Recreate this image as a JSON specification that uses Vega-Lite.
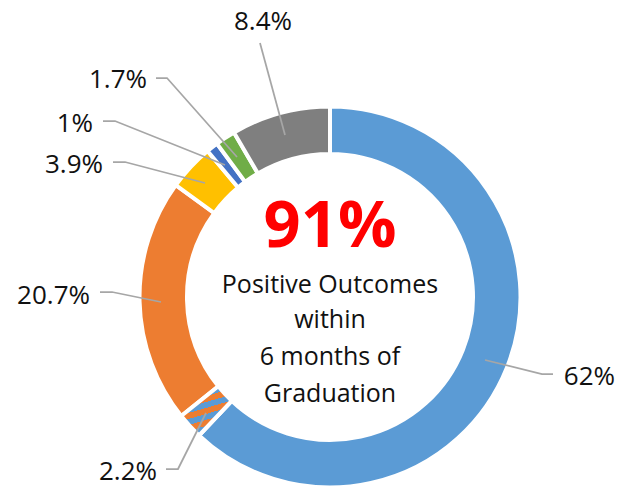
{
  "$schema": "https://vega.github.io/schema/vega-lite/v6.json",
  "width": 578,
  "height": 380,
  "autosize": {"type": "none"},
  "padding": {"left": 41, "top": 107, "right": 0, "bottom": 0},
  "background": "white",
  "config": {"view": {"stroke": null}},
  "datasets": {
    "slices": [
      {"idx": 1, "category": "s1", "value": 62},
      {"idx": 2, "category": "s2", "value": 2.2},
      {"idx": 3, "category": "s3", "value": 20.7},
      {"idx": 4, "category": "s4", "value": 3.9},
      {"idx": 5, "category": "s5", "value": 1},
      {"idx": 6, "category": "s6", "value": 1.7},
      {"idx": 7, "category": "s7", "value": 8.4}
    ],
    "labels": [
      {"label": "8.4%", "x": -38, "y": 267},
      {"label": "1.7%", "x": -183, "y": 209},
      {"label": "1%", "x": -237, "y": 165},
      {"label": "3.9%", "x": -227, "y": 124},
      {"label": "20.7%", "x": -240, "y": -7},
      {"label": "2.2%", "x": -173, "y": -183},
      {"label": "62%", "x": 285, "y": -88}
    ],
    "leaders": [
      {"label": "8.4%", "step": 1, "x": -70, "y": 254},
      {"label": "8.4%", "step": 2, "x": -45, "y": 162},
      {"label": "1.7%", "step": 1, "x": -174, "y": 219},
      {"label": "1.7%", "step": 2, "x": -163, "y": 219},
      {"label": "1.7%", "step": 3, "x": -93, "y": 140},
      {"label": "1%", "step": 1, "x": -227, "y": 176},
      {"label": "1%", "step": 2, "x": -215, "y": 176},
      {"label": "1%", "step": 3, "x": -105, "y": 132},
      {"label": "3.9%", "step": 1, "x": -217, "y": 135},
      {"label": "3.9%", "step": 2, "x": -205, "y": 135},
      {"label": "3.9%", "step": 3, "x": -125, "y": 114},
      {"label": "20.7%", "step": 1, "x": -230, "y": 5},
      {"label": "20.7%", "step": 2, "x": -218, "y": 5},
      {"label": "20.7%", "step": 3, "x": -169, "y": -5},
      {"label": "2.2%", "step": 1, "x": -164, "y": -172},
      {"label": "2.2%", "step": 2, "x": -152, "y": -172},
      {"label": "2.2%", "step": 3, "x": -124, "y": -116},
      {"label": "62%", "step": 1, "x": 155, "y": -63},
      {"label": "62%", "step": 2, "x": 212, "y": -77},
      {"label": "62%", "step": 3, "x": 223, "y": -77}
    ],
    "headline": [
      {"text": "91%", "x": 0, "y": 50}
    ],
    "caption": [
      {"text": "Positive Outcomes", "x": 0, "y": 4},
      {"text": "within", "x": 0, "y": -31},
      {"text": "6 months of", "x": 0, "y": -68},
      {"text": "Graduation", "x": 0, "y": -105}
    ]
  },
  "layer": [
    {
      "data": {"name": "slices"},
      "transform": [
        {"stack": "value", "groupby": [], "sort": [{"field": "idx", "order": "ascending"}], "as": ["t0", "t1"]}
      ],
      "mark": {"type": "arc", "radius": 190.5, "radius2": 143, "stroke": "white", "strokeWidth": 4},
      "encoding": {
        "theta": {"field": "t0", "type": "quantitative", "scale": {"domain": [0, 99.9]}},
        "theta2": {"field": "t1"},
        "color": {
          "field": "category",
          "type": "nominal",
          "scale": {
            "domain": ["s1", "s2", "s3", "s4", "s5", "s6", "s7"],
            "range": ["#5B9BD5", "#ED7D31", "#ED7D31", "#FFC000", "#4472C4", "#70AD47", "#7F7F7F"]
          },
          "legend": null
        }
      }
    },
    {
      "data": {"name": "slices"},
      "transform": [
        {"stack": "value", "groupby": [], "sort": [{"field": "idx", "order": "ascending"}], "as": ["t0", "t1"]},
        {"filter": "datum.idx === 2"}
      ],
      "mark": {
        "type": "arc",
        "radius": 190.5,
        "radius2": 143,
        "stroke": "white",
        "strokeWidth": 4,
        "fill": {
          "gradient": "linear",
          "x1": 0.35, "y1": 0, "x2": 0.65, "y2": 1,
          "stops": [
            {"offset": 0, "color": "#ED7D31"},
            {"offset": 0.111, "color": "#ED7D31"},
            {"offset": 0.111, "color": "#5B9BD5"},
            {"offset": 0.222, "color": "#5B9BD5"},
            {"offset": 0.222, "color": "#ED7D31"},
            {"offset": 0.333, "color": "#ED7D31"},
            {"offset": 0.333, "color": "#5B9BD5"},
            {"offset": 0.444, "color": "#5B9BD5"},
            {"offset": 0.444, "color": "#ED7D31"},
            {"offset": 0.556, "color": "#ED7D31"},
            {"offset": 0.556, "color": "#5B9BD5"},
            {"offset": 0.667, "color": "#5B9BD5"},
            {"offset": 0.667, "color": "#ED7D31"},
            {"offset": 0.778, "color": "#ED7D31"},
            {"offset": 0.778, "color": "#5B9BD5"},
            {"offset": 0.889, "color": "#5B9BD5"},
            {"offset": 0.889, "color": "#ED7D31"},
            {"offset": 1, "color": "#ED7D31"}
          ]
        }
      },
      "encoding": {
        "theta": {"field": "t0", "type": "quantitative", "scale": {"domain": [0, 99.9]}},
        "theta2": {"field": "t1"}
      }
    },
    {
      "data": {"name": "leaders"},
      "mark": {"type": "line", "color": "#A6A6A6", "strokeWidth": 1.75},
      "encoding": {
        "x": {"field": "x", "type": "quantitative", "scale": {"domain": [-289, 289], "nice": false, "zero": false}, "axis": null},
        "y": {"field": "y", "type": "quantitative", "scale": {"domain": [-190, 190], "nice": false, "zero": false}, "axis": null},
        "detail": {"field": "label"},
        "order": {"field": "step", "type": "quantitative"}
      }
    },
    {
      "data": {"name": "labels"},
      "mark": {"type": "text", "align": "right", "baseline": "alphabetic", "font": "Open Sans", "fontSize": 26, "color": "#111111"},
      "encoding": {
        "x": {"field": "x", "type": "quantitative", "scale": {"domain": [-289, 289], "nice": false, "zero": false}, "axis": null},
        "y": {"field": "y", "type": "quantitative", "scale": {"domain": [-190, 190], "nice": false, "zero": false}, "axis": null},
        "text": {"field": "label"}
      }
    },
    {
      "data": {"name": "headline"},
      "mark": {"type": "text", "align": "center", "baseline": "alphabetic", "font": "Open Sans", "fontSize": 65, "fontWeight": "bold", "color": "#FF0000"},
      "encoding": {
        "x": {"field": "x", "type": "quantitative", "scale": {"domain": [-289, 289], "nice": false, "zero": false}, "axis": null},
        "y": {"field": "y", "type": "quantitative", "scale": {"domain": [-190, 190], "nice": false, "zero": false}, "axis": null},
        "text": {"field": "text"}
      }
    },
    {
      "data": {"name": "caption"},
      "mark": {"type": "text", "align": "center", "baseline": "alphabetic", "font": "Open Sans", "fontSize": 25, "color": "#111111"},
      "encoding": {
        "x": {"field": "x", "type": "quantitative", "scale": {"domain": [-289, 289], "nice": false, "zero": false}, "axis": null},
        "y": {"field": "y", "type": "quantitative", "scale": {"domain": [-190, 190], "nice": false, "zero": false}, "axis": null},
        "text": {"field": "text"}
      }
    }
  ]
}
